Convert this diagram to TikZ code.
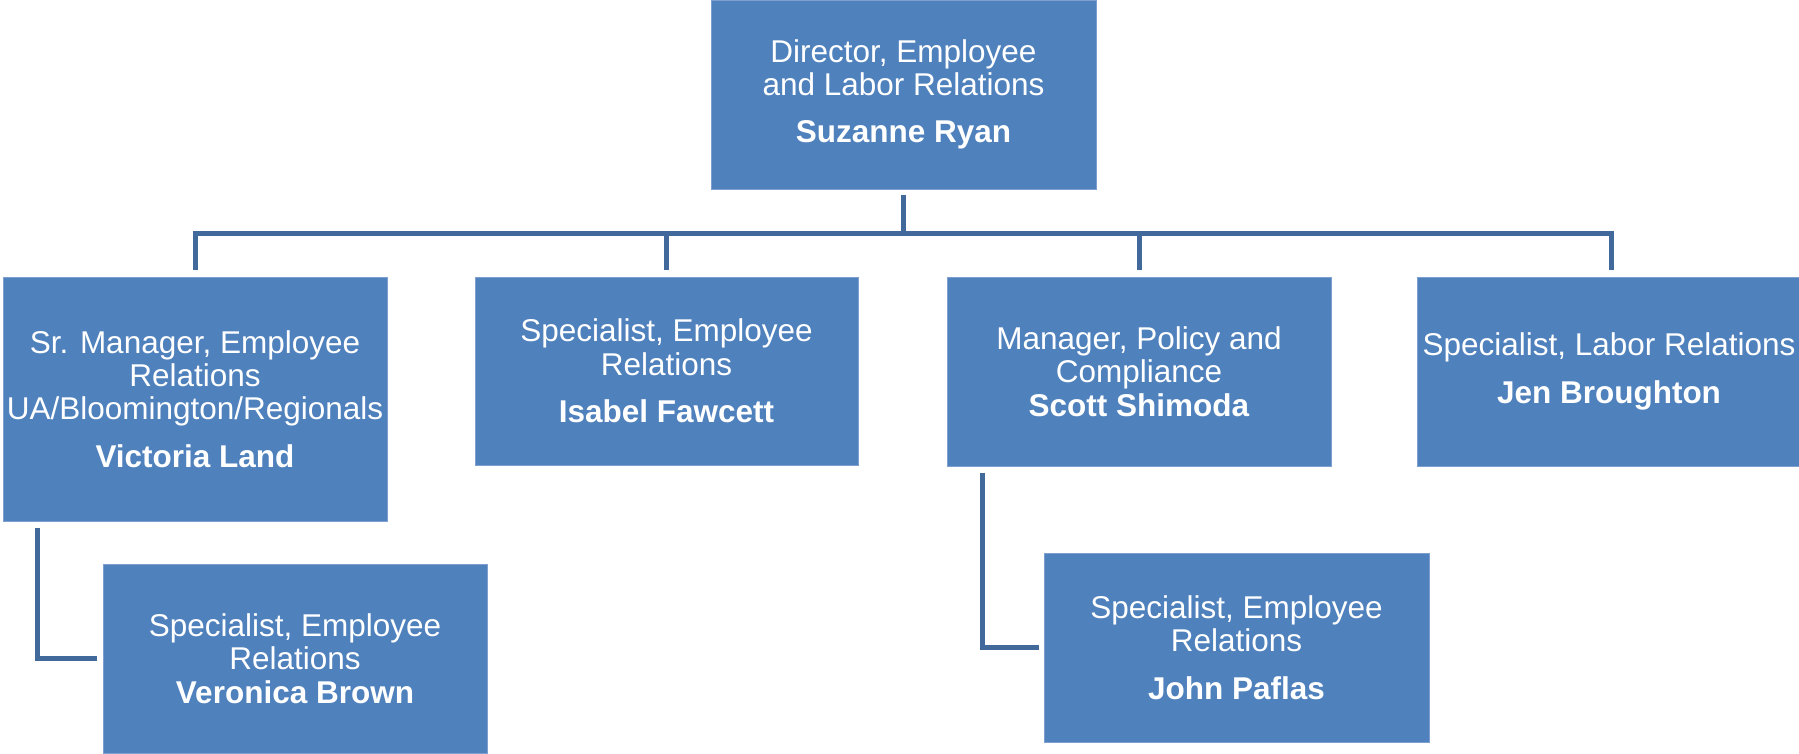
\documentclass[tikz,border=0pt]{standalone}
\usepackage{fontspec}
\setmainfont{Liberation Sans}
\definecolor{boxblue}{HTML}{4F81BD}
\definecolor{boxedge}{HTML}{7E9FCF}
\definecolor{connblue}{HTML}{41699B}
\begin{document}
\begin{tikzpicture}[x=1pt,y=-1pt,
  orgbox/.style={rectangle, fill=boxblue, draw=boxedge, line width=1pt, inner sep=0pt,
    minimum width=384pt, minimum height=189pt, align=center, text=white,
    font=\fontsize{31.5}{33.3}\selectfont},
  conn/.style={draw=connblue, line width=5pt, line join=miter}]
\useasboundingbox (0,0) rectangle (1799,753);
\node[orgbox, minimum width=385pt] (top) at (903.5,94.5) {Director, Employee\\and Labor Relations\\[14pt]\textbf{Suzanne Ryan}};
\node[orgbox, minimum height=244pt] (vl) at (195,399) {Sr. Manager, Employee\\Relations\\UA/Bloomington/Regionals\\[14pt]\textbf{Victoria Land}};
\node[orgbox, minimum width=383pt, minimum height=188pt] (ib) at (666.5,371) {Specialist, Employee\\Relations\\[14pt]\textbf{Isabel Fawcett}};
\node[orgbox] (ss) at (1139,371.5) {Manager, Policy and\\Compliance\\\textbf{Scott Shimoda}};
\node[orgbox] (jb) at (1609,371.5) {Specialist, Labor Relations\\[14pt]\textbf{Jen Broughton}};
\node[orgbox] (vb) at (295,658.5) {Specialist, Employee\\Relations\\\textbf{Veronica Brown}};
\node[orgbox, minimum width=385pt] (jp) at (1236.5,647.5) {Specialist, Employee\\Relations\\[14pt]\textbf{John Paflas}};
\coordinate (busy) at (0,233);
\draw[conn] ([yshift=-5pt]top.south) -- (top.south |- busy);
\draw[conn] ([yshift=7pt]vl.north) -- (vl.north |- busy) -- ([xshift=2pt]jb.north |- busy) -- ([xshift=2pt,yshift=7pt]jb.north);
\draw[conn] ([yshift=7pt]ib.north) -- (ib.north |- busy);
\draw[conn] ([yshift=7pt]ss.north) -- (ss.north |- busy);
\draw[conn] ([xshift=35pt,yshift=-6pt]vl.south west) |- ([xshift=-6pt]vb.west);
\draw[conn] ([xshift=36pt,yshift=-6pt]ss.south west) |- ([xshift=-5pt]jp.west);
\end{tikzpicture}
\end{document}
